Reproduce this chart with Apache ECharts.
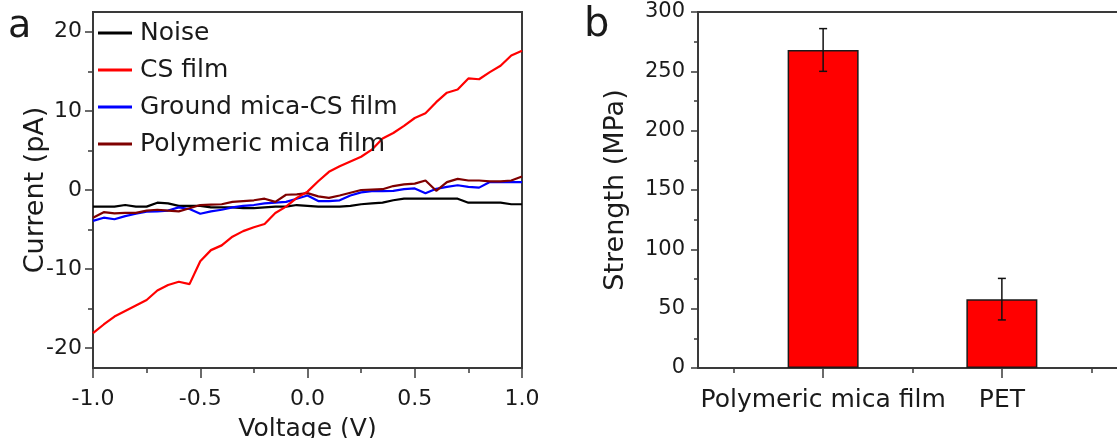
<!DOCTYPE html>
<html>
<head>
<meta charset="utf-8">
<script src="https://cdn.jsdelivr.net/npm/echarts@6/dist/echarts.min.js"></script>
<style>
  html, body { margin: 0; padding: 0; background: #fff; }
  #chart { width: 1117px; height: 438px; }
</style>
</head>
<body>
<div id="chart"></div>
<script>
// Panel a: I–V sweeps (current in pA vs voltage in V)
const voltage = [-1.00, -0.95, -0.90, -0.85, -0.80, -0.75, -0.70, -0.65, -0.60, -0.55,
                 -0.50, -0.45, -0.40, -0.35, -0.30, -0.25, -0.20, -0.15, -0.10, -0.05,
                  0.00,  0.05,  0.10,  0.15,  0.20,  0.25,  0.30,  0.35,  0.40,  0.45,
                  0.50,  0.55,  0.60,  0.65,  0.70,  0.75,  0.80,  0.85,  0.90,  0.95, 1.00];

const noise = [-2.1, -2.1, -2.1, -1.9, -2.1, -2.1, -1.6, -1.7, -2.0, -2.0,
               -2.0, -2.2, -2.2, -2.2, -2.3, -2.3, -2.2, -2.1, -2.1, -1.9,
               -2.0, -2.1, -2.1, -2.1, -2.0, -1.8, -1.7, -1.6, -1.3, -1.1,
               -1.1, -1.1, -1.1, -1.1, -1.1, -1.6, -1.6, -1.6, -1.6, -1.8, -1.8];

const csFilm = [-18.1, -17.0, -16.0, -15.3, -14.6, -13.9, -12.7, -12.0, -11.6, -11.9,
                -9.0, -7.6, -7.0, -5.9, -5.2, -4.7, -4.3, -2.9, -2.1, -1.0,
                -0.2, 1.1, 2.3, 3.0, 3.6, 4.2, 5.1, 6.5, 7.2, 8.1,
                9.1, 9.7, 11.1, 12.3, 12.7, 14.1, 14.0, 14.9, 15.7, 17.0, 17.6];

const groundMicaCs = [-3.9, -3.5, -3.7, -3.3, -3.0, -2.75, -2.7, -2.6, -2.2, -2.4,
                      -3.0, -2.7, -2.5, -2.2, -2.0, -1.9, -1.7, -1.6, -1.5, -1.1,
                      -0.7, -1.4, -1.4, -1.3, -0.7, -0.3, -0.15, -0.15, -0.1, 0.1,
                      0.2, -0.4, 0.15, 0.4, 0.6, 0.4, 0.3, 1.0, 1.0, 1.0, 1.0];

const polymericMica = [-3.5, -2.8, -2.95, -2.9, -2.9, -2.6, -2.5, -2.6, -2.7, -2.3,
                       -1.9, -1.85, -1.8, -1.5, -1.4, -1.3, -1.1, -1.5, -0.6, -0.55,
                       -0.4, -0.8, -1.0, -0.7, -0.35, 0.0, 0.05, 0.1, 0.5, 0.7,
                       0.8, 1.2, -0.1, 1.0, 1.4, 1.2, 1.2, 1.1, 1.1, 1.2, 1.7];

const ivNames = ['Noise', 'CS film', 'Ground mica-CS film', 'Polymeric mica film'];
const ivColors = ['#000000', '#ff0000', '#0000ff', '#7f0000'];
const ivSeries = [noise, csFilm, groundMicaCs, polymericMica];

// Panel a axis ticks
const currentMajorTicks = [-20, -10, 0, 10, 20];
const currentMinorTicks = [-15, -5, 5, 15];

// Panel b: tensile strength with error bars
const materials = ['Polymeric mica film', 'PET'];
const strength = [268, 58];
const strengthErr = [18, 17.5];
const materialMinorTicks = [0.5, 1.5, 2.5];

const FONT = 'DejaVu Sans';
const AXIS_COLOR = '#3a3a3a';
const TEXT_COLOR = '#1a1a1a';

const pair = (xs, ys) => xs.map((x, i) => [x, ys[i]]);
const materialPos = materials.map((_, i) => i + 1);

const chart = echarts.init(document.getElementById('chart'), null, { renderer: 'canvas' });

const lineSeries = ivSeries.map((ys, i) => ({
  name: ivNames[i],
  type: 'line',
  xAxisIndex: 0,
  yAxisIndex: 0,
  data: pair(voltage, ys),
  symbol: 'none',
  showSymbol: false,
  z: i === 1 ? 3 : 2,
  lineStyle: { color: ivColors[i], width: 2.2 },
  itemStyle: { color: ivColors[i] },
  animation: false
}));

const axisLine = { show: true, onZero: false, lineStyle: { color: AXIS_COLOR, width: 2 } };
const noLine = { show: false, onZero: false };

const option = {
  animation: false,
  backgroundColor: '#ffffff',
  textStyle: { fontFamily: FONT },
  graphic: [
    { type: 'text', left: 8, top: 8, style: { text: 'a', font: '38px "DejaVu Sans"', fill: TEXT_COLOR } },
    { type: 'text', left: 584, top: 6, style: { text: 'b', font: '40px "DejaVu Sans"', fill: TEXT_COLOR } }
  ],
  legend: {
    data: ivNames,
    orient: 'vertical',
    left: 98,
    top: 18,
    padding: 0,
    itemGap: 7,
    itemWidth: 34,
    itemHeight: 3,
    icon: 'rect',
    textStyle: { fontFamily: FONT, fontSize: 25, color: TEXT_COLOR, lineHeight: 30, padding: [0, 0, 0, 3] }
  },
  grid: [
    { left: 93, top: 12, width: 429, height: 356, outerBoundsMode: 'none', containLabel: false,
      show: true, borderColor: AXIS_COLOR, borderWidth: 2, backgroundColor: 'transparent' },
    { left: 698, top: 12, width: 429, height: 356, outerBoundsMode: 'none', containLabel: false,
      show: true, borderColor: AXIS_COLOR, borderWidth: 2, backgroundColor: 'transparent' }
  ],
  xAxis: [
    {
      gridIndex: 0, type: 'value', min: -1, max: 1, interval: 0.5, position: 'bottom',
      name: 'Voltage (V)', nameLocation: 'middle', nameGap: 49,
      nameTextStyle: { fontFamily: FONT, fontSize: 25, color: TEXT_COLOR },
      axisLine: axisLine,
      axisTick: { show: true, length: 10, lineStyle: { color: AXIS_COLOR, width: 1.5 } },
      minorTick: { show: true, splitNumber: 2, length: 5, lineStyle: { color: AXIS_COLOR, width: 1.5 } },
      axisLabel: { fontFamily: FONT, fontSize: 22, color: TEXT_COLOR, margin: 20, formatter: v => v.toFixed(1) },
      splitLine: { show: false }
    },
    {
      gridIndex: 1, type: 'value', min: 0.3, max: 2.7, position: 'bottom',
      axisLine: axisLine,
      axisTick: { show: true, length: 10, customValues: materialPos, lineStyle: { color: AXIS_COLOR, width: 1.5 } },
      axisLabel: {
        fontFamily: FONT, fontSize: 25, color: TEXT_COLOR, margin: 20,
        customValues: materialPos,
        formatter: v => materials[Math.round(v) - 1] || ''
      },
      splitLine: { show: false }
    },
    {
      gridIndex: 1, type: 'value', min: 0.3, max: 2.7, position: 'bottom', offset: 0,
      axisLine: noLine,
      axisTick: { show: true, length: 5, customValues: materialMinorTicks, lineStyle: { color: AXIS_COLOR, width: 1.5 } },
      axisLabel: { show: false },
      splitLine: { show: false }
    }
  ],
  yAxis: [
    {
      gridIndex: 0, type: 'value', min: -22.5, max: 22.5, position: 'left',
      name: 'Current (pA)', nameLocation: 'middle', nameGap: 44, nameMoveOverlap: false,
      nameTextStyle: { fontFamily: FONT, fontSize: 27, color: TEXT_COLOR },
      axisLine: axisLine,
      axisTick: { show: true, length: 8, customValues: currentMajorTicks, lineStyle: { color: AXIS_COLOR, width: 1.5 } },
      axisLabel: { fontFamily: FONT, fontSize: 22, color: TEXT_COLOR, margin: 11, customValues: currentMajorTicks },
      splitLine: { show: false }
    },
    {
      gridIndex: 0, type: 'value', min: -22.5, max: 22.5, position: 'left', offset: 0,
      axisLine: noLine,
      axisTick: { show: true, length: 5, customValues: currentMinorTicks, lineStyle: { color: AXIS_COLOR, width: 1.5 } },
      axisLabel: { show: false },
      splitLine: { show: false }
    },
    {
      gridIndex: 1, type: 'value', min: 0, max: 300, interval: 50, position: 'left',
      name: 'Strength (MPa)', nameLocation: 'middle', nameGap: 69,
      nameTextStyle: { fontFamily: FONT, fontSize: 27, color: TEXT_COLOR },
      axisLine: axisLine,
      axisTick: { show: true, length: 7, lineStyle: { color: AXIS_COLOR, width: 1.5 } },
      minorTick: { show: true, splitNumber: 2, length: 4, lineStyle: { color: AXIS_COLOR, width: 1.5 } },
      axisLabel: { fontFamily: FONT, fontSize: 21, color: TEXT_COLOR, margin: 13 },
      splitLine: { show: false }
    }
  ],
  series: [
    ...lineSeries,
    {
      name: 'Strength',
      type: 'bar',
      xAxisIndex: 1,
      yAxisIndex: 2,
      data: pair(materialPos, strength),
      barWidth: 71,
      itemStyle: { color: '#ff0000', borderColor: '#1a1a1a', borderWidth: 1.5 },
      z: 2
    },
    {
      name: 'Strength error',
      type: 'custom',
      xAxisIndex: 1,
      yAxisIndex: 2,
      data: materialPos.map((x, i) => [x, strength[i] - strengthErr[i], strength[i] + strengthErr[i]]),
      z: 5,
      renderItem: function (params, api) {
        const x = api.value(0);
        const lo = api.coord([x, api.value(1)]);
        const hi = api.coord([x, api.value(2)]);
        const cap = 4;
        const style = { stroke: '#111', lineWidth: 1.5, fill: null };
        return {
          type: 'group',
          children: [
            { type: 'line', shape: { x1: hi[0], y1: hi[1], x2: lo[0], y2: lo[1] }, style: style },
            { type: 'line', shape: { x1: hi[0] - cap, y1: hi[1], x2: hi[0] + cap, y2: hi[1] }, style: style },
            { type: 'line', shape: { x1: lo[0] - cap, y1: lo[1], x2: lo[0] + cap, y2: lo[1] }, style: style }
          ]
        };
      }
    }
  ]
};

chart.setOption(option);
</script>
</body>
</html>
